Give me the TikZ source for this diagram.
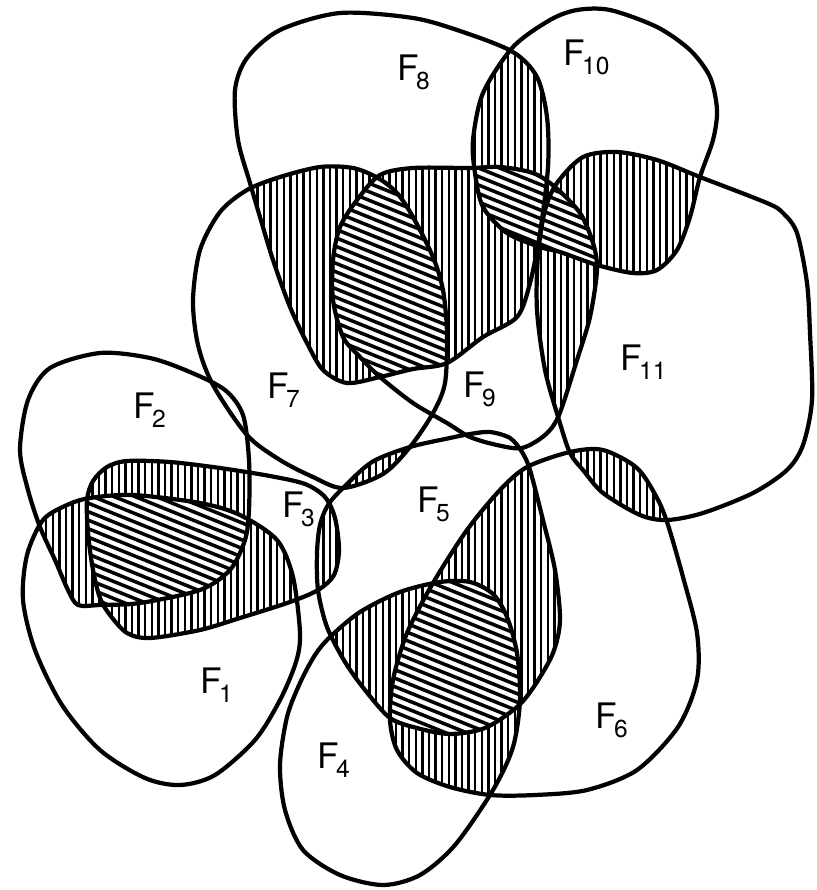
\documentclass[tikz,border=0pt]{standalone}
\usepackage{fontspec}
\setmainfont{TeX Gyre Heros}

\begin{document}
\begin{tikzpicture}[
    x=0.02cm,
    y=-0.02cm,
    setline/.style={
        draw,
        line width=2.4pt,
        line join=round
    },
    pairhatch/.style={
        line width=1.45pt
    },
    triplehatch/.style={
        line width=2pt
    },
    setlabel/.style={
        font=\fontsize{20}{20}\selectfont,
        inner sep=0pt,
        anchor=base west
    }
]

\useasboundingbox (0,0) rectangle (816,890);

% ============ SET OUTLINES ============
\def\Fone{plot[smooth cycle] coordinates {(43,520) (67,505) (90,498) (133,495) (200,503) (240,515) (277,540) (293,577) (300,633) (296,662) (280,700) (255,740) (215,775) (180,785) (145,778) (100,750) (62,705) (35,650) (23,600) (27,555)}}
\def\Ftwo{plot[smooth cycle] coordinates {(20,450) (28,400) (50,368) (100,353) (150,358) (190,372) (225,390) (243,415) (249,460) (249,510) (245,540) (230,570) (200,590) (140,603) (100,605) (78,605) (68,590) (55,560) (40,527) (28,490)}}
\def\Fthree{plot[smooth cycle] coordinates {(87,500) (93,481) (107,467) (127,461) (170,462) (220,468) (270,476) (305,484) (325,497) (335,518) (339,550) (334,575) (318,590) (290,602) (240,618) (200,630) (150,638) (127,633) (110,615) (100,598) (93,570) (88,533)}}
\def\Ffour{plot[smooth cycle] coordinates {(330,637) (360,612) (400,592) (440,582) (470,582) (493,594) (507,617) (517,653) (520,700) (513,747) (493,790) (455,845) (420,875) (383,885) (340,875) (303,850) (285,810) (280,765) (287,717) (300,683) (315,655)}}
\def\Ffive{plot[smooth cycle] coordinates {(343,488) (372,462) (410,447) (450,438) (470,434) (490,432) (510,438) (522,452) (530,470) (543,520) (555,570) (560,620) (553,653) (535,685) (517,707) (485,728) (450,734) (417,728) (390,718) (365,690) (345,662) (327,627) (318,590) (317,553) (320,525) (328,505)}}
\def\Fsix{plot[smooth cycle] coordinates {(390,720) (393,680) (407,633) (433,583) (467,530) (500,490) (527,467) (570,452) (603,450) (637,468) (657,498) (668,525) (683,577) (697,633) (697,680) (678,727) (637,770) (587,790) (535,795) (490,795) (450,787) (417,773) (397,750)}}
\def\Fseven{plot[smooth cycle] coordinates {(193,300) (200,250) (220,212) (247,190) (280,177) (320,167) (353,168) (378,178) (397,193) (413,217) (433,257) (443,290) (447,333) (445,383) (433,413) (410,447) (383,474) (343,488) (313,477) (280,460) (247,435) (213,385) (198,345)}}
\def\Feight{plot[smooth cycle] coordinates {(235,90) (247,58) (280,30) (340,13) (413,18) (463,32) (513,52) (537,77) (547,117) (548,167) (540,233) (530,283) (517,317) (483,337) (447,363) (413,369) (380,377) (347,383) (323,370) (307,343) (290,307) (273,260) (260,217) (250,183) (238,140)}}
\def\Fnine{plot[smooth cycle] coordinates {(357,200) (380,175) (413,168) (470,168) (500,167) (533,173) (555,187) (580,213) (593,243) (597,270) (590,317) (577,360) (559,415) (545,435) (522,448) (497,445) (470,437) (447,423) (413,403) (380,377) (360,357) (343,337) (333,300) (333,260) (340,227)}}
\def\Ften{plot[smooth cycle] coordinates {(513,47) (550,20) (577,10) (610,10) (657,27) (690,50) (710,77) (717,110) (713,140) (700,177) (690,217) (677,250) (657,270) (633,273) (597,265) (560,252) (540,247) (507,233) (483,207) (475,173) (473,140) (483,93)}}
\def\Feleven{plot[smooth cycle] coordinates {(557,183) (583,157) (617,152) (657,160) (700,177) (767,203) (783,213) (797,233) (807,283) (810,333) (812,400) (803,445) (787,470) (753,493) (703,513) (667,520) (640,515) (603,493) (583,470) (570,453) (559,420) (545,370) (537,310) (538,255) (545,210)}}

% vertical hatching of a two-set overlap
\def\pairhatch#1#2{
    \begin{scope}
        \clip #1;
        \clip #2;
        \foreach \x in {0,6.6,...,816} {
            \draw[pairhatch] (\x,0) -- (\x,890);
        }
    \end{scope}
}

% slanted hatching of a three-set overlap
\def\triplehatch#1#2#3{
    \begin{scope}
        \clip #1;
        \clip #2;
        \clip #3;
        \fill[white] (0,0) rectangle (816,890);
        \foreach \k in {-340,-331.5,...,890} {
            \draw[triplehatch] (0,\k) -- (816,\k+330);
        }
    \end{scope}
}

% ============ HATCHED OVERLAPS ============
\pairhatch{\Fone}{\Ftwo}
\pairhatch{\Fone}{\Fthree}
\pairhatch{\Ftwo}{\Fthree}
\pairhatch{\Fthree}{\Ffive}
\pairhatch{\Ffour}{\Ffive}
\pairhatch{\Ffour}{\Fsix}
\pairhatch{\Ffive}{\Fsix}
\pairhatch{\Ffive}{\Fseven}
\pairhatch{\Fsix}{\Feleven}
\pairhatch{\Fseven}{\Feight}
\pairhatch{\Feight}{\Fnine}
\pairhatch{\Feight}{\Ften}
\pairhatch{\Fnine}{\Ften}
\pairhatch{\Fnine}{\Feleven}
\pairhatch{\Ften}{\Feleven}

\triplehatch{\Fone}{\Ftwo}{\Fthree}
\triplehatch{\Ffour}{\Ffive}{\Fsix}
\triplehatch{\Fseven}{\Feight}{\Fnine}
\triplehatch{\Feight}{\Fnine}{\Ften}
\triplehatch{\Fnine}{\Ften}{\Feleven}

% outlines on top
\foreach \F in {\Fone,\Ftwo,\Fthree,\Ffour,\Ffive,\Fsix,\Fseven,\Feight,\Fnine,\Ften,\Feleven} {
    \draw[setline] \F;
}

% ============ LABELS ============
\def\fsub#1{\kern-1.5pt\raisebox{-5.5pt}{\fontsize{14}{14}\selectfont #1}}

\node[setlabel] (lF1) at (200,693) {F\fsub{1}};
\node[setlabel] (lF2) at (133,418) {F\fsub{2}};
\node[setlabel] (lF3) at (282,517) {F\fsub{3}};
\node[setlabel] (lF4) at (317,768) {F\fsub{4}};
\node[setlabel] (lF5) at (417,512) {F\fsub{5}};
\node[setlabel] (lF6) at (595,728) {F\fsub{6}};
\node[setlabel] (lF7) at (267,398) {F\fsub{7}};
\node[setlabel] (lF8) at (397,80) {F\fsub{8}};
\node[setlabel] (lF9) at (463,397) {F\fsub{9}};
\node[setlabel] (lF10) at (563,65) {F\fsub{10}};
\node[setlabel] (lF11) at (620,370) {F\fsub{11}};

\end{tikzpicture}
\end{document}
